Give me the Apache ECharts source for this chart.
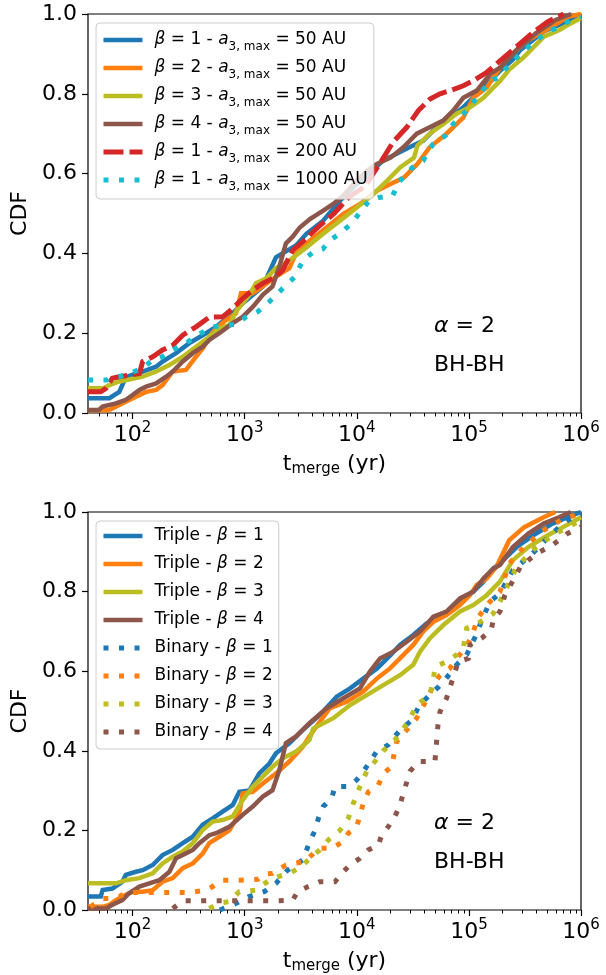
<!DOCTYPE html>
<html>
<head>
<meta charset="utf-8">
<title>CDF of merger times</title>
<script src="https://cdn.jsdelivr.net/npm/echarts@6/dist/echarts.min.js"></script>
<style>
  html, body { margin: 0; padding: 0; background: #fff; }
  #chart { width: 606px; height: 975px; }
</style>
</head>
<body>
<div id="chart"></div>
<script>
(function () {
    'use strict';

    // ---- top panel: triples, different beta and a3,max ----
    var tB1a50 = [40, 62, 76, 87, 123, 162, 185, 244, 321, 422, 555, 782, 959, 1180, 1450, 1900, 2330, 2870, 3550, 5010, 7080, 10000, 12900, 17000, 22400, 29500, 38900, 51300, 67600, 89100, 117500, 154900, 190500, 245000, 288000, 465000, 690000, 1000000];
    var cB1a50 = [0.037, 0.037, 0.053, 0.09, 0.104, 0.116, 0.129, 0.15, 0.175, 0.195, 0.216, 0.25, 0.275, 0.296, 0.317, 0.39, 0.405, 0.42, 0.449, 0.482, 0.532, 0.574, 0.6, 0.632, 0.649, 0.666, 0.682, 0.716, 0.74, 0.766, 0.8, 0.833, 0.858, 0.885, 0.91, 0.956, 0.977, 1.0];

    var tB2a50 = [40, 61, 71, 87, 107, 132, 162, 185, 228, 299, 368, 422, 483, 555, 681, 836, 927, 1180, 1450, 1900, 2500, 2870, 3800, 5370, 7590, 10700, 15100, 20000, 26300, 34700, 44700, 63100, 89100, 109600, 144500, 190500, 245000, 339000, 550000, 760000, 1000000];
    var cB2a50 = [0.007, 0.007, 0.016, 0.028, 0.041, 0.053, 0.058, 0.07, 0.104, 0.108, 0.141, 0.162, 0.191, 0.212, 0.233, 0.25, 0.30, 0.30, 0.317, 0.342, 0.363, 0.40, 0.432, 0.465, 0.499, 0.524, 0.557, 0.574, 0.59, 0.624, 0.666, 0.70, 0.74, 0.79, 0.816, 0.866, 0.90, 0.935, 0.968, 0.993, 1.0];

    var tB3a50 = [40, 55, 62, 76, 93, 123, 162, 213, 280, 368, 483, 594, 729, 836, 959, 1100, 1260, 1550, 1900, 2500, 3550, 5010, 7080, 10000, 14100, 18600, 24500, 32400, 34700, 44700, 58900, 77600, 102300, 134900, 166000, 190500, 227500, 312600, 466700, 642700, 816600, 1000000];
    var cB3a50 = [0.062, 0.062, 0.07, 0.079, 0.084, 0.091, 0.104, 0.12, 0.141, 0.166, 0.191, 0.212, 0.22, 0.254, 0.275, 0.296, 0.325, 0.337, 0.363, 0.382, 0.415, 0.449, 0.482, 0.515, 0.549, 0.582, 0.616, 0.64, 0.67, 0.70, 0.724, 0.75, 0.766, 0.79, 0.816, 0.833, 0.86, 0.893, 0.943, 0.96, 0.977, 0.99];

    var tB4a50 = [40, 50, 54, 71, 87, 100, 115, 132, 162, 199, 228, 280, 344, 422, 483, 594, 782, 959, 1180, 1450, 1770, 2040, 2330, 2680, 3100, 3820, 5010, 6170, 7590, 9330, 12300, 15100, 20000, 26000, 34300, 44700, 58900, 72400, 89100, 117500, 154900, 190500, 266000, 398000, 593000, 817000];
    var cB4a50 = [0.0075, 0.0075, 0.016, 0.024, 0.033, 0.045, 0.058, 0.066, 0.074, 0.091, 0.104, 0.129, 0.15, 0.166, 0.183, 0.20, 0.225, 0.241, 0.266, 0.296, 0.317, 0.367, 0.425, 0.442, 0.465, 0.486, 0.507, 0.524, 0.545, 0.574, 0.607, 0.624, 0.64, 0.666, 0.70, 0.716, 0.733, 0.758, 0.79, 0.808, 0.85, 0.866, 0.91, 0.952, 0.985, 1.0];

    var tB1a200 = [40, 52, 58, 66, 76, 93, 115, 123, 151, 185, 228, 280, 368, 483, 635, 782, 959, 1180, 1450, 1900, 2180, 2680, 3310, 4560, 6280, 8630, 11900, 14000, 17300, 21200, 27900, 35400, 45000, 55200, 67800, 89100, 109600, 144500, 190500, 266000, 367000, 506000, 700000];
    var cB1a200 = [0.053, 0.053, 0.062, 0.087, 0.091, 0.095, 0.099, 0.129, 0.141, 0.158, 0.17, 0.195, 0.216, 0.24, 0.241, 0.262, 0.287, 0.308, 0.325, 0.342, 0.358, 0.408, 0.43, 0.467, 0.50, 0.543, 0.568, 0.60, 0.64, 0.68, 0.716, 0.758, 0.787, 0.80, 0.808, 0.82, 0.833, 0.854, 0.883, 0.918, 0.952, 0.981, 1.0];

    var tB1a1000 = [40, 59, 62, 76, 93, 123, 151, 185, 228, 299, 394, 518, 681, 836, 1030, 1310, 1660, 2180, 2770, 3310, 4050, 4970, 5700, 7000, 8910, 10970, 12900, 15800, 20900, 24000, 31600, 38900, 47900, 61700, 72400, 95500, 117500, 154900, 182000, 209000, 288000, 398000, 550000, 759000, 1000000];
    var cB1a1000 = [0.083, 0.083, 0.087, 0.091, 0.099, 0.112, 0.133, 0.141, 0.158, 0.175, 0.198, 0.216, 0.22, 0.222, 0.241, 0.254, 0.279, 0.312, 0.34, 0.382, 0.403, 0.411, 0.432, 0.449, 0.474, 0.507, 0.532, 0.54, 0.545, 0.58, 0.616, 0.632, 0.674, 0.695, 0.724, 0.758, 0.79, 0.833, 0.84, 0.86, 0.9, 0.935, 0.96, 0.98, 0.993];

    // ---- bottom panel: triples vs binaries ----
    var tTri1 = [40, 52, 54, 66, 81, 87, 107, 123, 151, 185, 228, 280, 344, 422, 518, 635, 782, 895, 1100, 1350, 1660, 1900, 2500, 3290, 4680, 6610, 8710, 11480, 15140, 19950, 24270, 31900, 42000, 55200, 72600, 89100, 109600, 134900, 164800, 189200, 267000, 398000, 550000, 759000, 1000000];
    var cTri1 = [0.034, 0.034, 0.05, 0.054, 0.071, 0.088, 0.096, 0.10, 0.113, 0.138, 0.151, 0.168, 0.184, 0.214, 0.23, 0.247, 0.264, 0.297, 0.30, 0.343, 0.368, 0.394, 0.419, 0.452, 0.49, 0.536, 0.557, 0.582, 0.607, 0.64, 0.666, 0.691, 0.72, 0.737, 0.758, 0.783, 0.80, 0.825, 0.858, 0.871, 0.912, 0.946, 0.97, 0.987, 1.0];

    var tTri2 = [40, 54, 62, 71, 87, 100, 123, 151, 185, 228, 280, 344, 422, 483, 594, 729, 895, 959, 1180, 1450, 1900, 2500, 3290, 4200, 5750, 8130, 11430, 15140, 19770, 24270, 31900, 39200, 48200, 63100, 83200, 102300, 117500, 143900, 176600, 229000, 312000, 464500, 589000];
    var cTri2 = [0.008, 0.008, 0.013, 0.025, 0.038, 0.046, 0.046, 0.05, 0.071, 0.08, 0.105, 0.117, 0.142, 0.168, 0.184, 0.20, 0.243, 0.293, 0.297, 0.318, 0.343, 0.373, 0.41, 0.455, 0.507, 0.523, 0.549, 0.582, 0.607, 0.632, 0.666, 0.70, 0.724, 0.741, 0.766, 0.791, 0.817, 0.833, 0.863, 0.929, 0.962, 0.987, 1.0];

    var tTri3 = [40, 71, 87, 115, 151, 185, 228, 280, 344, 422, 518, 635, 782, 959, 1180, 1450, 1770, 2180, 2870, 3780, 4090, 6170, 8710, 12250, 17220, 24270, 31900, 36600, 45000, 59200, 83200, 109600, 143900, 189200, 247000, 339000, 501000, 692000, 1000000];
    var cTri3 = [0.067, 0.067, 0.075, 0.08, 0.092, 0.117, 0.134, 0.147, 0.168, 0.201, 0.222, 0.226, 0.235, 0.276, 0.31, 0.335, 0.36, 0.381, 0.398, 0.427, 0.456, 0.482, 0.515, 0.54, 0.565, 0.59, 0.616, 0.649, 0.683, 0.716, 0.75, 0.766, 0.791, 0.825, 0.879, 0.912, 0.941, 0.962, 0.987];

    var tTri4 = [40, 58, 66, 81, 93, 115, 141, 173, 213, 244, 280, 344, 394, 483, 555, 729, 959, 1180, 1450, 1770, 2040, 2330, 2870, 3800, 5370, 7590, 10670, 13090, 16110, 21180, 27860, 36640, 48200, 63100, 83200, 109600, 134900, 164800, 189200, 247000, 339000, 464500, 642700, 813000];
    var cTri4 = [0.004, 0.004, 0.013, 0.025, 0.042, 0.059, 0.067, 0.075, 0.096, 0.13, 0.138, 0.151, 0.168, 0.188, 0.193, 0.209, 0.239, 0.26, 0.285, 0.301, 0.352, 0.419, 0.436, 0.47, 0.507, 0.532, 0.557, 0.599, 0.632, 0.649, 0.674, 0.70, 0.737, 0.75, 0.783, 0.80, 0.833, 0.858, 0.867, 0.912, 0.946, 0.971, 0.987, 1.0];

    var tBin1 = [600, 790, 1080, 1490, 1900, 2410, 3310, 3800, 4240, 4540, 5010, 5960, 6380, 8400, 10000, 11430, 15030, 19050, 24270, 31000, 36300, 46100, 53300, 61100, 77600, 95500, 120000, 130000, 154900, 189200, 247000, 367000, 550000, 759000, 1000000];
    var cBin1 = [0.0, 0.013, 0.033, 0.046, 0.067, 0.10, 0.126, 0.172, 0.20, 0.23, 0.26, 0.28, 0.31, 0.31, 0.327, 0.348, 0.398, 0.415, 0.452, 0.477, 0.515, 0.544, 0.56, 0.578, 0.616, 0.641, 0.70, 0.729, 0.775, 0.796, 0.854, 0.895, 0.946, 0.979, 0.996];

    var tBin2 = [42, 54, 62, 76, 90, 123, 228, 321, 452, 518, 635, 895, 1306, 1496, 1774, 2333, 3289, 3451, 4093, 4539, 5957, 7586, 8395, 10000, 10670, 11430, 12680, 15560, 17260, 20420, 22650, 34200, 43450, 48200, 55200, 67600, 77600, 95500, 109600, 120200, 143900, 189200, 229000, 309000, 464500, 692000, 1000000];
    var cBin2 = [0.008, 0.029, 0.029, 0.034, 0.044, 0.044, 0.044, 0.044, 0.05, 0.059, 0.075, 0.075, 0.077, 0.09, 0.092, 0.113, 0.121, 0.121, 0.142, 0.155, 0.155, 0.172, 0.193, 0.209, 0.239, 0.268, 0.297, 0.314, 0.343, 0.36, 0.423, 0.482, 0.536, 0.565, 0.59, 0.607, 0.632, 0.662, 0.70, 0.733, 0.766, 0.80, 0.87, 0.912, 0.954, 0.983, 0.996];

    var tBin3 = [483, 594, 729, 895, 1259, 1445, 1774, 2500, 3221, 3819, 4677, 5572, 7079, 8395, 9311, 10300, 12250, 14030, 17220, 21880, 28840, 34200, 45000, 48200, 50100, 63100, 77600, 89100, 92300, 95500, 120000, 164800, 189200, 267000, 398000, 593000, 1000000];
    var cBin3 = [0.004, 0.017, 0.021, 0.046, 0.05, 0.063, 0.08, 0.092, 0.109, 0.13, 0.151, 0.176, 0.20, 0.23, 0.268, 0.30, 0.348, 0.368, 0.40, 0.427, 0.473, 0.515, 0.54, 0.582, 0.611, 0.624, 0.641, 0.657, 0.683, 0.708, 0.72, 0.745, 0.775, 0.862, 0.912, 0.946, 0.979];

    var tBin4 = [228, 280, 394, 729, 1028, 1901, 2679, 2972, 3690, 4677, 6383, 7328, 8690, 10670, 12680, 15560, 16630, 19050, 21880, 24270, 26000, 29790, 35400, 49770, 51000, 52000, 53000, 55200, 63100, 75200, 80400, 98900, 102300, 130000, 158500, 164800, 189200, 209000, 288000, 398000, 550000, 759000, 1000000];
    var cBin4 = [0.004, 0.023, 0.023, 0.023, 0.023, 0.023, 0.025, 0.046, 0.059, 0.071, 0.071, 0.092, 0.113, 0.13, 0.151, 0.163, 0.188, 0.209, 0.235, 0.264, 0.293, 0.348, 0.373, 0.373, 0.406, 0.44, 0.465, 0.498, 0.532, 0.599, 0.624, 0.632, 0.666, 0.683, 0.704, 0.729, 0.75, 0.79, 0.862, 0.895, 0.916, 0.946, 0.962];

    // axis ticks
    var majorTicks = [100, 1000, 10000, 100000, 1000000];
    var minorTicks = [50, 60, 70, 80, 90,
        200, 300, 400, 500, 600, 700, 800, 900,
        2000, 3000, 4000, 5000, 6000, 7000, 8000, 9000,
        20000, 30000, 40000, 50000, 60000, 70000, 80000, 90000,
        200000, 300000, 400000, 500000, 600000, 700000, 800000, 900000];
    var yTicks = [0, 0.2, 0.4, 0.6, 0.8, 1.0];

    var FONT = 'DejaVu Sans';
    var C = {
        blue: '#1f77b4', orange: '#ff7f0e', olive: '#bcbd22',
        brown: '#8c564b', red: '#d62728', cyan: '#17becf'
    };
    var SOLID = 'solid';
    var DASH = [20, 6];
    var DOT = [5, 10.5];

    var topSeries = [
        { name: 'b1a50', label: '{i|β} = 1 - {i|a}{s|3, max} = 50 AU', t: tB1a50, c: cB1a50, color: C.blue, type: SOLID, width: 4.5 },
        { name: 'b2a50', label: '{i|β} = 2 - {i|a}{s|3, max} = 50 AU', t: tB2a50, c: cB2a50, color: C.orange, type: SOLID, width: 4.5 },
        { name: 'b3a50', label: '{i|β} = 3 - {i|a}{s|3, max} = 50 AU', t: tB3a50, c: cB3a50, color: C.olive, type: SOLID, width: 4.5 },
        { name: 'b4a50', label: '{i|β} = 4 - {i|a}{s|3, max} = 50 AU', t: tB4a50, c: cB4a50, color: C.brown, type: SOLID, width: 4.5 },
        { name: 'b1a200', label: '{i|β} = 1 - {i|a}{s|3, max} = 200 AU', t: tB1a200, c: cB1a200, color: C.red, type: DASH, width: 5 },
        { name: 'b1a1000', label: '{i|β} = 1 - {i|a}{s|3, max} = 1000 AU', t: tB1a1000, c: cB1a1000, color: C.cyan, type: DOT, width: 5 }
    ];
    var botSeries = [
        { name: 'tri1', label: 'Triple - {i|β} = 1', t: tTri1, c: cTri1, color: C.blue, type: SOLID, width: 4.5 },
        { name: 'tri2', label: 'Triple - {i|β} = 2', t: tTri2, c: cTri2, color: C.orange, type: SOLID, width: 4.5 },
        { name: 'tri3', label: 'Triple - {i|β} = 3', t: tTri3, c: cTri3, color: C.olive, type: SOLID, width: 4.5 },
        { name: 'tri4', label: 'Triple - {i|β} = 4', t: tTri4, c: cTri4, color: C.brown, type: SOLID, width: 4.5 },
        { name: 'bin1', label: 'Binary - {i|β} = 1', t: tBin1, c: cBin1, color: C.blue, type: DOT, width: 5 },
        { name: 'bin2', label: 'Binary - {i|β} = 2', t: tBin2, c: cBin2, color: C.orange, type: DOT, width: 5 },
        { name: 'bin3', label: 'Binary - {i|β} = 3', t: tBin3, c: cBin3, color: C.olive, type: DOT, width: 5 },
        { name: 'bin4', label: 'Binary - {i|β} = 4', t: tBin4, c: cBin4, color: C.brown, type: DOT, width: 5 }
    ];

    var labelMap = {};
    topSeries.concat(botSeries).forEach(function (s) { labelMap[s.name] = s.label; });

    function zip(t, c) {
        return t.map(function (v, i) { return [v, c[i]]; });
    }

    function makeSeries(list, axisIndex) {
        return list.map(function (s) {
            return {
                name: s.name,
                type: 'line',
                xAxisIndex: axisIndex,
                yAxisIndex: axisIndex,
                data: zip(s.t, s.c),
                symbol: 'none',
                showSymbol: false,
                silent: true,
                lineStyle: { color: s.color, width: s.width, type: s.type, cap: 'butt', join: 'miter' },
                itemStyle: { color: s.color }
            };
        });
    }

    var grids = [
        { left: 88, top: 14, width: 493, height: 399 },
        { left: 88, top: 512, width: 493, height: 398 }
    ];

    function xMajor(gi) {
        return {
            type: 'log', gridIndex: gi, position: 'bottom', min: 40, max: 1000000,
            name: '{t|t}{m|merge}{t| (yr)}',
            nameLocation: 'middle', nameGap: 35,
            nameTextStyle: {
                color: '#000', fontFamily: FONT, fontSize: 22,
                rich: {
                    t: { fontFamily: FONT, fontSize: 22, lineHeight: 26, color: '#000' },
                    m: { fontFamily: FONT, fontSize: 15, lineHeight: 15, padding: [11, 0, 0, 0], color: '#000' }
                }
            },
            axisLine: { show: false },
            splitLine: { show: false },
            axisTick: { show: true, customValues: majorTicks, length: 6, lineStyle: { color: '#000', width: 1.2 } },
            axisLabel: {
                customValues: majorTicks, margin: 8,
                formatter: function (v) {
                    return '{b|10}{p|' + Math.round(Math.log10(v)) + '}';
                },
                rich: {
                    b: { fontFamily: FONT, fontSize: 22, lineHeight: 29, color: '#000' },
                    p: { fontFamily: FONT, fontSize: 15, lineHeight: 15, padding: [0, 0, 14, 0], color: '#000' }
                }
            }
        };
    }
    function xMinor(gi) {
        return {
            type: 'log', gridIndex: gi, position: 'bottom', min: 40, max: 1000000,
            axisLine: { show: false },
            splitLine: { show: false },
            axisLabel: { show: false },
            axisTick: { show: true, customValues: minorTicks, length: 3.5, lineStyle: { color: '#000', width: 1 } }
        };
    }
    function yAxis(gi) {
        return {
            type: 'value', gridIndex: gi, min: 0, max: 1, interval: 0.2,
            name: 'CDF', nameLocation: 'middle', nameGap: 52,
            nameTextStyle: { color: '#000', fontFamily: FONT, fontSize: 22 },
            axisLine: { show: false },
            splitLine: { show: false },
            axisTick: { show: true, customValues: yTicks, length: 6, lineStyle: { color: '#000', width: 1.2 } },
            axisLabel: {
                customValues: yTicks, margin: 11, color: '#000', fontFamily: FONT, fontSize: 22,
                formatter: function (v) { return v.toFixed(1); }
            }
        };
    }

    var legendText = {
        color: '#000', fontFamily: FONT, fontSize: 17, lineHeight: 22, padding: [0, 0, 0, 7],
        rich: {
            i: { fontFamily: FONT, fontSize: 17, fontStyle: 'italic', lineHeight: 22, color: '#000' },
            s: { fontFamily: FONT, fontSize: 12, lineHeight: 13, padding: [14, 0, 0, 0], color: '#000' }
        }
    };
    function legend(list, top, gap) {
        return {
            orient: 'vertical', left: 96, top: top,
            padding: [4, 6, 6, 5],
            itemWidth: 39, itemHeight: 14, itemGap: gap,
            backgroundColor: 'rgba(255,255,255,0.8)',
            borderColor: '#cccccc', borderWidth: 1, borderRadius: 4,
            selectedMode: false,
            itemStyle: { opacity: 0 },
            lineStyle: { width: 'inherit', type: 'inherit', cap: 'butt' },
            textStyle: legendText,
            formatter: function (name) { return labelMap[name]; },
            data: list.map(function (s) { return s.name; })
        };
    }

    function note(x, y, text) {
        return {
            type: 'text', x: x, y: y, z: 100,
            style: {
                text: text, fill: '#000', fontFamily: FONT, fontSize: 22, verticalAlign: 'middle',
                rich: { i: { fontFamily: FONT, fontSize: 22, fontStyle: 'italic', fill: '#000' } }
            }
        };
    }

    var myChart = echarts.init(document.getElementById('chart'), null, { renderer: 'canvas' });

    var option = {
        animation: false,
        backgroundColor: '#fff',
        grid: grids.map(function (g) {
            return {
                left: g.left, top: g.top, width: g.width, height: g.height,
                show: true, borderColor: '#000', borderWidth: 1.2, backgroundColor: 'transparent',
                outerBoundsMode: 'none', containLabel: false
            };
        }),
        xAxis: [xMajor(0), xMajor(1), xMinor(0), xMinor(1)],
        yAxis: [yAxis(0), yAxis(1)],
        legend: [legend(topSeries, 23, 2), legend(botSeries, 521, 6)],
        series: makeSeries(topSeries, 0).concat(makeSeries(botSeries, 1)),
        graphic: [
            note(434, 326, '{i|α} = 2'),
            note(434, 365, 'BH-BH'),
            note(434, 823, '{i|α} = 2'),
            note(434, 862, 'BH-BH')
        ]
    };

    myChart.setOption(option);
    window.addEventListener('resize', function () {
        myChart.resize();
    });
})();
</script>
</body>
</html>
